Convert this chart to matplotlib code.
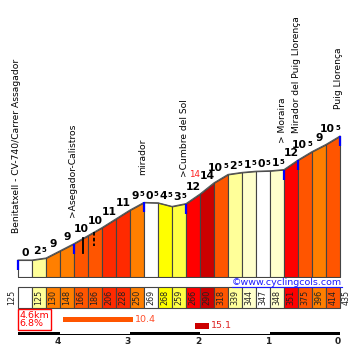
import numpy as np
import matplotlib.pyplot as plt

# climb data (0.2 km segments)
seg_km = 0.2
grades = [0, 2.5, 9, 9, 10, 10, 11, 11, 9.5, 0.5, 4.5, 3.5, 12, 14, 10.5,
          2.5, 1.5, 0.5, 1.5, 12, 10.5, 9, 10.5]
elevations = [125, 125, 130, 148, 166, 186, 206, 228, 250, 269, 268, 259, 266,
              290, 318, 339, 344, 347, 348, 351, 375, 396, 414, 435]
places = ['Benitatxell - CV-740/Carrer Assagador', '>Asegador-Calistros',
          'mirador', '>Cumbre del Sol', '> Moraira',
          'Mirador del Puig Llorença', 'Puig Llorença']
place_km = [0, 0.8, 1.8, 2.4, 3.8, 4.0, 4.6]
marks_km = [0.93, 1.09]
km_ticks = [4, 3, 2, 1, 0]
total_km = 4.6
avg_grade = 6.8
steepest = 14
steepest_km = 2.5
max_1km, max_1km_from = 10.4, 0.64
max_200m, max_200m_from = 15.1, 2.53


def grade_color(g):
    if g < 1:
        return 'white'
    if g < 2:
        return '#ffffcc'
    if g < 3:
        return '#ffff99'
    if g < 4:
        return '#ffff44'
    if g < 9:
        return '#ffff00'
    if g < 10:
        return '#ff7f00'
    if g < 11:
        return '#ff5500'
    if g < 12:
        return '#ff2a00'
    if g < 13:
        return '#ff0000'
    return '#cc0000'


dist = np.arange(len(elevations)) * seg_km
W, H = 354, 350
fig = plt.figure(figsize=(W / 100, H / 100), dpi=100)

# profile axes: baseline at 277 px, 70 px per km, 0.4 px per m
base_px = 277
ax = fig.add_axes([0, (H - base_px) / H, 1, base_px / H])
ax.set_xlim(-18 / 70, (W - 18) / 70)
ax.set_ylim(125 - (base_px - 260) / 0.4, 125 + 260 / 0.4)
ax.axis('off')

for i, g in enumerate(grades):
    x = dist[i:i + 2]
    e = elevations[i:i + 2]
    ax.fill_between(x, e, ax.get_ylim()[0], facecolor=grade_color(g),
                    edgecolor='#444444', lw=0.8)
    top = (x.mean(), max(e))
    if g % 1:
        ax.annotate(str(int(g)), top, xytext=(1.5, 1.2),
                    textcoords='offset points', ha='right', va='bottom',
                    fontsize=7.8, fontweight='bold', color='black')
        ax.annotate('5', top, xytext=(1.7, 3.6),
                    textcoords='offset points', ha='left', va='bottom',
                    fontsize=5, fontweight='bold', color='black')
    else:
        ax.annotate(str(int(g)), top, xytext=(0, 1.2),
                    textcoords='offset points', ha='center', va='bottom',
                    fontsize=7.8, fontweight='bold', color='black')
ax.plot(dist, elevations, color='#555555', lw=0.8)

# place markers and names
for name, k in zip(places, place_km):
    e = np.interp(k, dist, elevations)
    ax.plot([k, k], [e, e - 25], color='#0000ff', lw=1.6, solid_capstyle='butt')
    ax.annotate(name, (k, e), xytext=(-1, 19.5), textcoords='offset points',
                rotation=90, ha='center', va='bottom', fontsize=6.6,
                color='black')

for k, ls in zip(marks_km, ['-', (0, (2, 1.2))]):
    e = np.interp(k, dist, elevations)
    ax.plot([k, k], [e, e - 36], color='black', lw=1.3, ls=ls)

e = np.interp(steepest_km, dist, elevations)
ax.annotate(str(steepest), (steepest_km, e), xytext=(1, 14),
            textcoords='offset points', ha='center', va='bottom',
            fontsize=6.3, color='#ff2020')

# bottom strip axes in pixel rows
ax2 = fig.add_axes([0, 0, 1, (H - base_px) / H])
ax2.set_xlim(ax.get_xlim())
ax2.set_ylim(H, base_px)
ax2.axis('off')

centers = dist[:-1] + seg_km / 2
ax2.bar(centers, 21, bottom=287, width=seg_km,
        color=[grade_color(g) for g in grades], edgecolor='#444444', lw=0.8)
for i in range(1, len(grades)):
    ax2.text(centers[i], 297.5, str(elevations[i]), rotation=90,
             ha='center', va='center', fontsize=5.8, color='#222222')
ax2.text(-0.09, 297.5, str(elevations[0]), rotation=90, ha='center',
         va='center', fontsize=5.8, color='#222222')
ax2.text(total_km + 0.09, 297.5, str(elevations[-1]), rotation=90,
         ha='center', va='center', fontsize=5.8, color='#222222')

# website
t = ax2.text(total_km + 0.03, 282.5, '©www.cyclingcols.com', ha='right',
             va='center', fontsize=6.8, color='#1a1aff')
fig.canvas.draw()
bb = t.get_window_extent().transformed(ax2.transData.inverted())
ax2.plot([bb.x0, bb.x1], [286.6, 286.6], color='#1a1aff', lw=0.8)

# summary box
ax2.text(0.02, 319.5, '%.1fkm\n%.1f%%' % (total_km, avg_grade), ha='left',
         va='center', fontsize=6.8, color='#ff0000', linespacing=0.95,
         bbox=dict(boxstyle='square,pad=0.15', fc='white', ec='#ff0000',
                   lw=1))

# max gradient bars
ax2.bar(max_1km_from, 5, bottom=317, width=1.0, align='edge',
        color=grade_color(max_1km), lw=0)
ax2.text(max_1km_from + 1.03, 319.5, str(max_1km), ha='left', va='center',
         fontsize=6.8, color='#ff4d2a')
ax2.bar(max_200m_from, 6, bottom=323, width=seg_km, align='edge',
        color=grade_color(max_200m), lw=0)
ax2.text(max_200m_from + seg_km + 0.03, 326, str(max_200m), ha='left',
         va='center', fontsize=6.8, color='#dd2222')

# distance scale
ax2.bar(0, 3, bottom=331.6, width=total_km, align='edge', color='black',
        lw=0)
for k in km_ticks:
    x = total_km - k
    if k % 2 == 0 and k > 0:
        ax2.bar(x, 1.2, bottom=332.4, width=1.0, align='edge', color='white',
                lw=0)
    ax2.text(x - 0.03, 341.5, str(k), ha='center', va='center', fontsize=6.5,
             fontweight='bold', color='#222222')

fig.savefig('out.png', dpi=100)
